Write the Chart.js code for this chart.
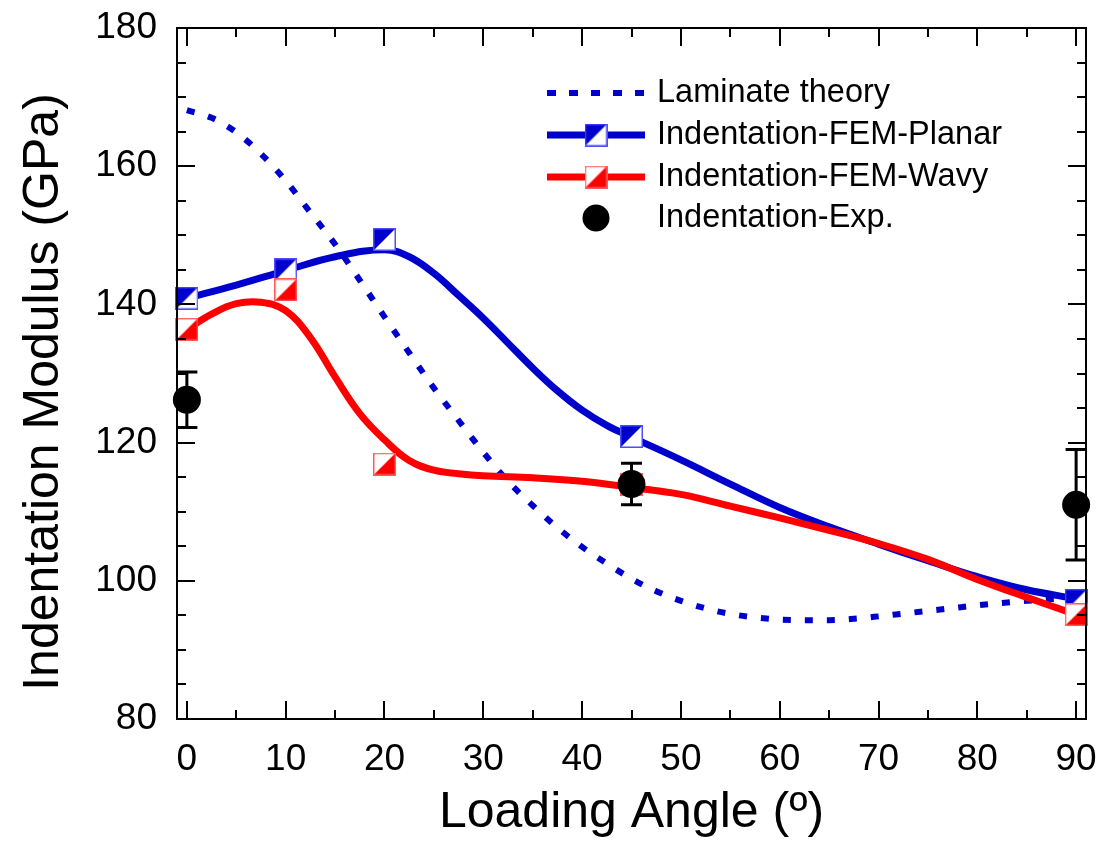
<!DOCTYPE html>
<html>
<head>
<meta charset="utf-8">
<script src="https://cdn.jsdelivr.net/npm/chart.js@4/dist/chart.umd.min.js"></script>
<style>
  html, body { margin: 0; padding: 0; background: #fff; }
  canvas { display: block; }
</style>
</head>
<body>
<canvas id="chart" width="1102" height="843"></canvas>
<script>
const FONT = '"Liberation Sans", Arial, Helvetica, sans-serif';
const BLUE = '#0000CC';
const RED = '#FF0000';

// Laminate theory prediction (GPa) vs loading angle (deg)
const laminateAngle = [0, 2.5, 5, 7.5, 10, 12.5, 15, 17.5, 20, 22.5, 25, 27.5, 30, 32.5, 35, 37.5,
  40, 42.5, 45, 47.5, 50, 52.5, 55, 57.5, 60, 62.5, 65, 67.5, 70, 72.5, 75, 77.5, 80, 82.5, 85, 87.5, 90];
const laminateModulus = [168.1, 167.0, 164.9, 161.8, 157.9, 153.3, 148.7, 143.5, 138.2, 133.0, 127.9, 123.2,
  118.6, 114.4, 110.9, 107.7, 104.9, 102.5, 100.3, 98.5, 97.1, 96.0, 95.2, 94.7, 94.4, 94.3, 94.3, 94.5,
  94.85, 95.25, 95.65, 96.05, 96.45, 96.8, 97.1, 97.35, 97.6];

// Smoothed FEM trend curves
const planarCurveAngle = [0, 5, 10, 15, 20, 22.5, 25, 27.5, 30, 32.5, 35, 37.5, 40, 42.5, 45, 50, 55, 60, 65, 70, 75, 80, 85, 90];
const planarCurveModulus = [140.9, 142.8, 144.9, 146.9, 147.9, 146.9, 144.5, 141.3, 138.0, 134.4, 130.8, 127.5,
  124.7, 122.5, 120.8, 117.5, 114.0, 110.6, 107.8, 105.3, 102.9, 100.6, 98.7, 97.4];
const wavyCurveAngle = [0, 2.5, 5, 7.5, 10, 12.5, 15, 17.5, 20, 22.5, 25, 27.5, 30, 35, 40, 45, 50, 55, 60, 65, 70, 75, 80, 85, 90];
const wavyCurveModulus = [136.4, 138.6, 140.1, 140.3, 139.1, 135.2, 129.5, 124.2, 120.4, 117.4, 116.0, 115.5, 115.2,
  114.9, 114.4, 113.5, 112.5, 110.8, 109.1, 107.3, 105.4, 103.1, 100.2, 97.6, 95.1];

// FEM simulation results
const femAngle = [0, 10, 20, 45, 90];
const planarModulus = [140.9, 145.0, 149.4, 120.9, 97.2];
const wavyModulus = [136.4, 142.1, 116.9, 114.0, 95.1];

// Indentation experiments (mean and error)
const expAngle = [0, 45, 90];
const expModulus = [126.2, 114.0, 111.0];
const expError = [4, 3, 8];

// Axis ticks
const xTicks = [0, 10, 20, 30, 40, 50, 60, 70, 80, 90];
const yTicks = [80, 100, 120, 140, 160, 180];
const xMinorStep = 5;
const yMinorStep = 5;

const pts = (xs, ys) => xs.map((x, i) => ({ x, y: ys[i] }));

// Half-filled square marker
function halfSquare(fill, border, filledCorner) {
  const s = 23;
  const c = document.createElement('canvas');
  c.width = s; c.height = s;
  const g = c.getContext('2d');
  g.fillStyle = '#fff';
  g.fillRect(0, 0, s, s);
  g.fillStyle = fill;
  g.beginPath();
  if (filledCorner === 'upperLeft') {
    g.moveTo(0, 0); g.lineTo(s, 0); g.lineTo(0, s);
  } else {
    g.moveTo(s, 0); g.lineTo(s, s); g.lineTo(0, s);
  }
  g.closePath();
  g.fill();
  g.strokeStyle = border;
  g.lineWidth = 1.5;
  g.strokeRect(0.75, 0.75, s - 1.5, s - 1.5);
  return c;
}
const planarMarker = halfSquare(BLUE, '#4d4dff', 'upperLeft');
const wavyMarker = halfSquare(RED, '#ff5a5a', 'lowerRight');

// Frame, inward ticks on all four sides, and the vertical axis title
const framePlugin = {
  id: 'frame',
  afterDraw(chart) {
    const { ctx, chartArea: a, scales: { x, y } } = chart;
    ctx.save();
    ctx.strokeStyle = '#000';
    ctx.lineWidth = 2;
    ctx.beginPath();
    const major = 18, minor = 9;
    for (let v = 0; v <= 90; v += xMinorStep) {
      const px = Math.round(x.getPixelForValue(v));
      const len = v % 10 === 0 ? major : minor;
      ctx.moveTo(px, a.bottom); ctx.lineTo(px, a.bottom - len);
      ctx.moveTo(px, a.top); ctx.lineTo(px, a.top + len);
    }
    for (let v = 80; v <= 180; v += yMinorStep) {
      const py = Math.round(y.getPixelForValue(v));
      const len = v % 20 === 0 ? major : minor;
      ctx.moveTo(a.left, py); ctx.lineTo(a.left + len, py);
      ctx.moveTo(a.right, py); ctx.lineTo(a.right - len, py);
    }
    ctx.stroke();
    ctx.strokeRect(a.left, a.top, a.right - a.left, a.bottom - a.top);

    ctx.translate(44, 392);
    ctx.rotate(-Math.PI / 2);
    ctx.font = '50px ' + FONT;
    ctx.fillStyle = '#000';
    ctx.textAlign = 'center';
    ctx.textBaseline = 'middle';
    ctx.fillText('Indentation Modulus (GPa)', 0, 0);
    ctx.restore();
  }
};

// Error bars for the experimental points
const errorBarPlugin = {
  id: 'errorBars',
  afterDatasetsDraw(chart) {
    const { ctx, scales: { x, y } } = chart;
    ctx.save();
    ctx.strokeStyle = '#000';
    ctx.lineWidth = 3;
    const cap = 10.5;
    expAngle.forEach((a, i) => {
      const px = x.getPixelForValue(a);
      const top = y.getPixelForValue(expModulus[i] + expError[i]);
      const bot = y.getPixelForValue(expModulus[i] - expError[i]);
      ctx.beginPath();
      ctx.moveTo(px, top); ctx.lineTo(px, bot);
      ctx.moveTo(px - cap, top); ctx.lineTo(px + cap, top);
      ctx.moveTo(px - cap, bot); ctx.lineTo(px + cap, bot);
      ctx.stroke();
    });
    ctx.restore();
  }
};

// Legend block
const legendPlugin = {
  id: 'customLegend',
  afterDraw(chart) {
    const ctx = chart.ctx;
    const x0 = 547, x1 = 645, xm = 596, tx = 657;
    const rows = [93, 135, 177, 218];
    ctx.save();
    ctx.font = '32.5px ' + FONT;
    ctx.fillStyle = '#000';
    ctx.textBaseline = 'middle';
    ctx.textAlign = 'left';
    // Laminate theory
    ctx.strokeStyle = BLUE; ctx.lineWidth = 6; ctx.setLineDash([9, 13]);
    ctx.beginPath(); ctx.moveTo(x0, rows[0]); ctx.lineTo(x1, rows[0]); ctx.stroke();
    ctx.setLineDash([]);
    // FEM planar
    ctx.strokeStyle = BLUE; ctx.lineWidth = 7;
    ctx.beginPath(); ctx.moveTo(x0, rows[1]); ctx.lineTo(x1, rows[1]); ctx.stroke();
    ctx.drawImage(planarMarker, xm - 11.5, rows[1] - 11.5);
    // FEM wavy
    ctx.strokeStyle = RED;
    ctx.beginPath(); ctx.moveTo(x0, rows[2]); ctx.lineTo(x1, rows[2]); ctx.stroke();
    ctx.drawImage(wavyMarker, xm - 11.5, rows[2] - 11.5);
    // Experiment
    ctx.fillStyle = '#000';
    ctx.beginPath(); ctx.arc(xm, rows[3], 13.5, 0, Math.PI * 2); ctx.fill();
    const labels = ['Laminate theory', 'Indentation-FEM-Planar', 'Indentation-FEM-Wavy', 'Indentation-Exp.'];
    labels.forEach((t, i) => ctx.fillText(t, tx, rows[i]));
    ctx.restore();
  }
};

new Chart(document.getElementById('chart'), {
  type: 'line',
  data: {
    datasets: [
      { label: 'Indentation-Exp.', data: pts(expAngle, expModulus), showLine: false,
        pointStyle: 'circle', pointRadius: 14, pointBackgroundColor: '#000', pointBorderWidth: 0,
        order: 0, clip: false },
      { label: 'Indentation-FEM-Wavy points', data: pts(femAngle, wavyModulus), showLine: false,
        pointStyle: wavyMarker, pointRadius: 12, order: 1, clip: false },
      { label: 'Indentation-FEM-Planar points', data: pts(femAngle, planarModulus), showLine: false,
        pointStyle: planarMarker, pointRadius: 12, order: 2, clip: false },
      { label: 'Indentation-FEM-Wavy', data: pts(wavyCurveAngle, wavyCurveModulus), borderColor: RED,
        borderWidth: 7, pointRadius: 0, tension: 0.4, order: 3 },
      { label: 'Indentation-FEM-Planar', data: pts(planarCurveAngle, planarCurveModulus), borderColor: BLUE,
        borderWidth: 7, pointRadius: 0, tension: 0.4, order: 4 },
      { label: 'Laminate theory', data: pts(laminateAngle, laminateModulus), borderColor: BLUE,
        borderWidth: 6, borderDash: [8, 14], borderCapStyle: 'butt', pointRadius: 0,
        cubicInterpolationMode: 'monotone', order: 5 }
    ]
  },
  options: {
    responsive: false,
    devicePixelRatio: 1,
    animation: false,
    layout: { padding: { top: 28, right: 16, left: 0, bottom: 0 } },
    plugins: { legend: { display: false }, tooltip: { enabled: false } },
    scales: {
      x: {
        type: 'linear', min: -1, max: 91,
        grid: { display: false, drawTicks: false },
        border: { display: false },
        afterBuildTicks: s => { s.ticks = xTicks.map(v => ({ value: v })); },
        afterFit: s => { s.height = 124; s.paddingLeft = 0; s.paddingRight = 0; },
        ticks: { color: '#000', font: { family: FONT, size: 37 }, padding: 19, maxRotation: 0 },
        title: { display: true, text: 'Loading Angle (º)', color: '#000',
          font: { family: FONT, size: 50 }, padding: { top: 0, bottom: 0 } }
      },
      y: {
        type: 'linear', min: 80, max: 180,
        grid: { display: false, drawTicks: false },
        border: { display: false },
        afterBuildTicks: s => { s.ticks = yTicks.map(v => ({ value: v })); },
        afterFit: s => { s.width = 177; s.paddingTop = 0; s.paddingBottom = 0; },
        ticks: { color: '#000', font: { family: FONT, size: 37 }, padding: 20 },
        title: { display: false }
      }
    }
  },
  plugins: [errorBarPlugin, framePlugin, legendPlugin]
});
</script>
</body>
</html>
